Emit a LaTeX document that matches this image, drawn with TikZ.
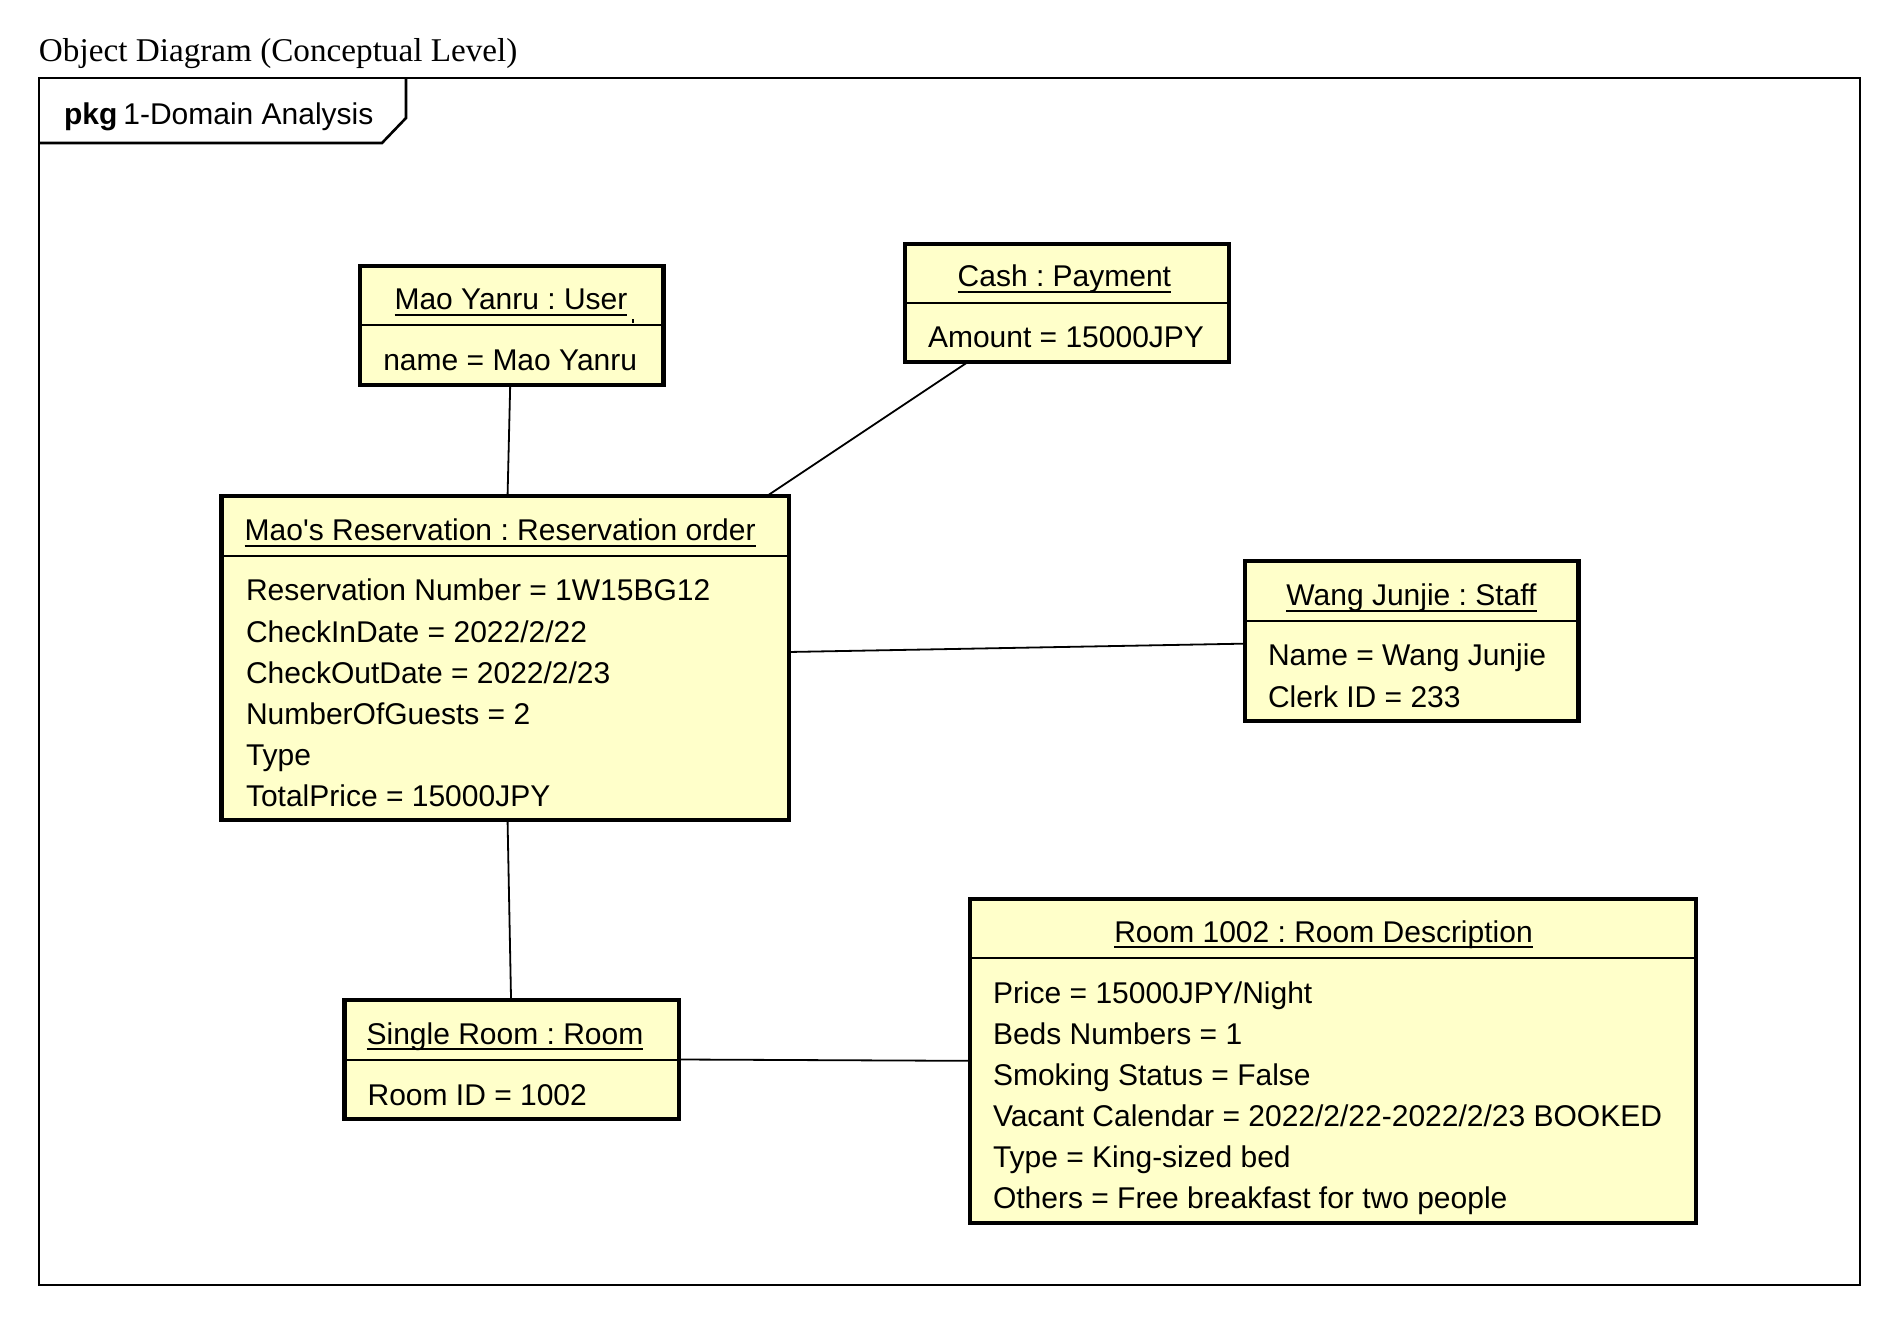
\documentclass[tikz,border=0pt]{standalone}
\usepackage{fontspec}
\setmainfont{Liberation Sans}
\newfontfamily\captionserif{Liberation Serif}
\usetikzlibrary{fit}
\definecolor{objfill}{RGB}{255,255,202}
\frenchspacing
% underline under an object name node, at a fixed depth below the baseline
\newcommand\underlineof[1]{\draw[uline] ([yshift=-2.6pt]#1.base west) -- ([yshift=-2.6pt]#1.base east);}
\begin{document}
\begin{tikzpicture}[x=0.5pt,y=-0.5pt,
  every node/.style={inner sep=0pt, outer sep=0pt},
  objbox/.style={draw=black, line width=2.2pt, fill=objfill, rectangle},
  divider/.style={line width=1pt},
  assoc/.style={line width=0.9pt},
  objname/.style={anchor=base, font=\fontsize{15}{18}\selectfont},
  slot/.style={anchor=base west, font=\fontsize{15}{18}\selectfont},
  uline/.style={line width=0.95pt},
]
\useasboundingbox[fill=white] (0,0) rectangle (1890,1336);

% caption and package frame
\node[anchor=base west, font=\captionserif\fontsize{16.6}{20}\selectfont] (caption) at (39,62) {Object Diagram (Conceptual Level)};
\draw[line width=1pt] (38.6,78.4) rectangle (1860,1285);
\draw[line width=1.3pt] (38.6,143) -- (382,143) -- (406,118) -- (406,78.4);
\node[anchor=base west, font=\fontsize{15}{18}\selectfont] (pkg) at (64,125) {\textbf{pkg}\hspace{0.2em}1-Domain Analysis};

% ---- objects ----
% Mao Yanru : User
\node[objbox, fit={(360,266) (663.4,385)}] (user) {};
\draw[divider] (user.west |- 0,325.5) -- (user.east |- 0,325.5);
\node[objname] (userT) at (511,310) {Mao Yanru : User};
\underlineof{userT}
\fill ([xshift=2.4pt,yshift=-4.4pt]userT.base east) rectangle ([xshift=3.4pt,yshift=-6.6pt]userT.base east);
\node[slot] (userA) at (383.3,371) {name = Mao Yanru};

% Cash : Payment
\node[objbox, fit={(904.8,244.3) (1228.7,362)}] (cash) {};
\draw[divider] (cash.west |- 0,302.6) -- (cash.east |- 0,302.6);
\node[objname] (cashT) at (1064.4,287) {Cash : Payment};
\underlineof{cashT}
\node[slot] (cashA) at (928,348) {Amount = 15000JPY};

% Mao's Reservation : Reservation order
\node[objbox, fit={(221.4,496.2) (788.7,820)}] (res) {};
\draw[divider] (res.west |- 0,555.7) -- (res.east |- 0,555.7);
\node[objname] (resT) at (500.2,541) {Mao\textquotesingle s Reservation : Reservation order};
\underlineof{resT}
\node[slot] (resA1) at (246,601) {Reservation Number = 1W15BG12};
\node[slot] (resA2) at (246,642) {CheckInDate = 2022/2/22};
\node[slot] (resA3) at (246,683) {CheckOutDate = 2022/2/23};
\node[slot] (resA4) at (246,724) {NumberOfGuests = 2};
\node[slot] (resA5) at (246,765) {Type};
\node[slot] (resA6) at (246,806) {TotalPrice = 15000JPY};

% Wang Junjie : Staff
\node[objbox, fit={(1244.8,561.3) (1578.3,721.2)}] (staff) {};
\draw[divider] (staff.west |- 0,620.8) -- (staff.east |- 0,620.8);
\node[objname] (staffT) at (1411.5,606) {Wang Junjie : Staff};
\underlineof{staffT}
\node[slot] (staffA1) at (1268,665) {Name = Wang Junjie};
\node[slot] (staffA2) at (1268,707) {Clerk ID = 233};

% Single Room : Room
\node[objbox, fit={(344.3,1000) (679,1119)}] (single) {};
\draw[divider] (single.west |- 0,1059.5) -- (single.east |- 0,1059.5);
\node[objname] (singleT) at (505,1044) {Single Room : Room};
\underlineof{singleT}
\node[slot] (singleA) at (367.6,1105) {Room ID = 1002};

% Room 1002 : Room Description
\node[objbox, fit={(970,899) (1696,1222.7)}] (room) {};
\draw[divider] (room.west |- 0,958) -- (room.east |- 0,958);
\node[objname] (roomT) at (1323.5,942) {Room 1002 : Room Description};
\underlineof{roomT}
\node[slot] (roomA1) at (993,1003) {Price = 15000JPY/Night};
\node[slot] (roomA2) at (993,1044) {Beds Numbers = 1};
\node[slot] (roomA3) at (993,1085) {Smoking Status = False};
\node[slot] (roomA4) at (993,1126) {Vacant Calendar = 2022/2/22-2022/2/23 BOOKED};
\node[slot] (roomA5) at (993,1167) {Type = King-sized bed};
\node[slot] (roomA6) at (993,1208) {Others = Free breakfast for two people};

% ---- links ----
\draw[assoc] ([xshift=-0.75pt]user.south) -- ([xshift=1.25pt]res.north);
\draw[assoc] ([xshift=-49.4pt]cash.south) -- ([xshift=130.8pt]res.north);
\draw[assoc] ([yshift=3.05pt]res.east) -- ([yshift=-1.2pt]staff.west);
\draw[assoc] ([xshift=1.25pt]res.south) -- ([xshift=-0.3pt]single.north);
\draw[assoc] (single.east) -- (room.west);
\end{tikzpicture}
\end{document}
